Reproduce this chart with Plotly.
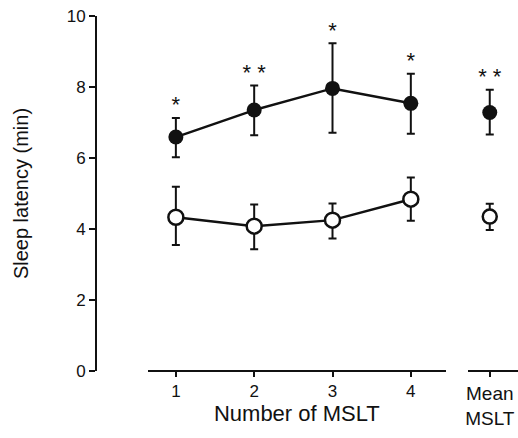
import plotly.graph_objects as go

sessions = [1, 2, 3, 4]
mean_x = [5]
tick_labels = ["1", "2", "3", "4"]
mean_label = ["Mean<br>MSLT"]

filled = [6.59, 7.35, 7.96, 7.54]
filled_up = [0.54, 0.69, 1.27, 0.83]
filled_dn = [0.57, 0.71, 1.25, 0.86]
filled_mean = [7.28]
filled_mean_up = [0.64]
filled_mean_dn = [0.62]

opened = [4.33, 4.08, 4.25, 4.84]
opened_up = [0.86, 0.61, 0.47, 0.61]
opened_dn = [0.78, 0.65, 0.52, 0.61]
opened_mean = [4.35]
opened_mean_up = [0.36]
opened_mean_dn = [0.38]

stars = ["*", "* *", "*", "*"]
stars_mean = ["* *"]

FONT = "Liberation Sans, Arial, Helvetica, sans-serif"
BLACK = "#111111"

def err(up, dn):
    return dict(type="data", symmetric=False, array=up, arrayminus=dn,
                color=BLACK, thickness=2, width=4)

fig = go.Figure()

fig.add_trace(go.Scatter(x=sessions, y=opened, mode="lines+markers", xaxis="x", yaxis="y",
                         line=dict(color=BLACK, width=2.5),
                         marker=dict(symbol="circle", size=15, color="white", line=dict(color=BLACK, width=2.5)),
                         error_y=err(opened_up, opened_dn), showlegend=False))
fig.add_trace(go.Scatter(x=sessions, y=filled, mode="lines+markers", xaxis="x", yaxis="y",
                         line=dict(color=BLACK, width=2.5),
                         marker=dict(symbol="circle", size=15, color=BLACK),
                         error_y=err(filled_up, filled_dn), showlegend=False))
fig.add_trace(go.Scatter(x=mean_x, y=opened_mean, mode="markers", xaxis="x2", yaxis="y",
                         marker=dict(symbol="circle", size=14, color="white", line=dict(color=BLACK, width=2.5)),
                         error_y=err(opened_mean_up, opened_mean_dn), showlegend=False))
fig.add_trace(go.Scatter(x=mean_x, y=filled_mean, mode="markers", xaxis="x2", yaxis="y",
                         marker=dict(symbol="circle", size=15, color=BLACK),
                         error_y=err(filled_mean_up, filled_mean_dn), showlegend=False))

star_y = [v + u for v, u in zip(filled, filled_up)]
fig.add_trace(go.Scatter(x=sessions, y=star_y, mode="text", text=stars, textposition="top center",
                         xaxis="x", yaxis="y", textfont=dict(size=22, color=BLACK, family=FONT),
                         showlegend=False, hoverinfo="skip"))
fig.add_trace(go.Scatter(x=mean_x, y=[filled_mean[0] + filled_mean_up[0]], mode="text", text=stars_mean,
                         textposition="top center", xaxis="x2", yaxis="y",
                         textfont=dict(size=22, color=BLACK, family=FONT),
                         showlegend=False, hoverinfo="skip"))

fig.update_layout(
    width=518, height=438,
    margin=dict(l=96, r=0, t=16, b=67),
    paper_bgcolor="white", plot_bgcolor="white",
    font=dict(family=FONT, color=BLACK, size=17),
    xaxis=dict(domain=[0.123, 0.829], range=[0.643, 4.447], anchor="free", position=0,
               tickvals=sessions, ticktext=tick_labels, ticks="outside", ticklen=5,
               tickwidth=1.5, tickcolor=BLACK, showline=True, linecolor=BLACK, linewidth=2,
               showgrid=False, zeroline=False, tickfont=dict(size=17),
               title=dict(text="Number of MSLT", font=dict(size=22), standoff=3)),
    xaxis2=dict(domain=[0.881, 1.0], range=[4.72, 5.36], anchor="free", position=0,
                tickvals=mean_x, ticktext=mean_label, ticks="outside", ticklen=5,
                tickwidth=1.5, tickcolor=BLACK, showline=True, linecolor=BLACK, linewidth=2,
                showgrid=False, zeroline=False, tickfont=dict(size=19)),
    yaxis=dict(range=[0, 10], anchor="free", position=0, domain=[0, 1],
               tickvals=[0, 2, 4, 6, 8, 10], ticks="outside", ticklen=6,
               tickwidth=1.5, tickcolor=BLACK, showline=True, linecolor=BLACK, linewidth=2,
               showgrid=False, zeroline=False, tickfont=dict(size=17),
               title=dict(text="Sleep latency (min)", font=dict(size=20), standoff=32)),
)

fig.write_html("out.html", config={"displayModeBar": False},
               post_script="document.body.style.margin='0';document.body.style.overflow='hidden';")
